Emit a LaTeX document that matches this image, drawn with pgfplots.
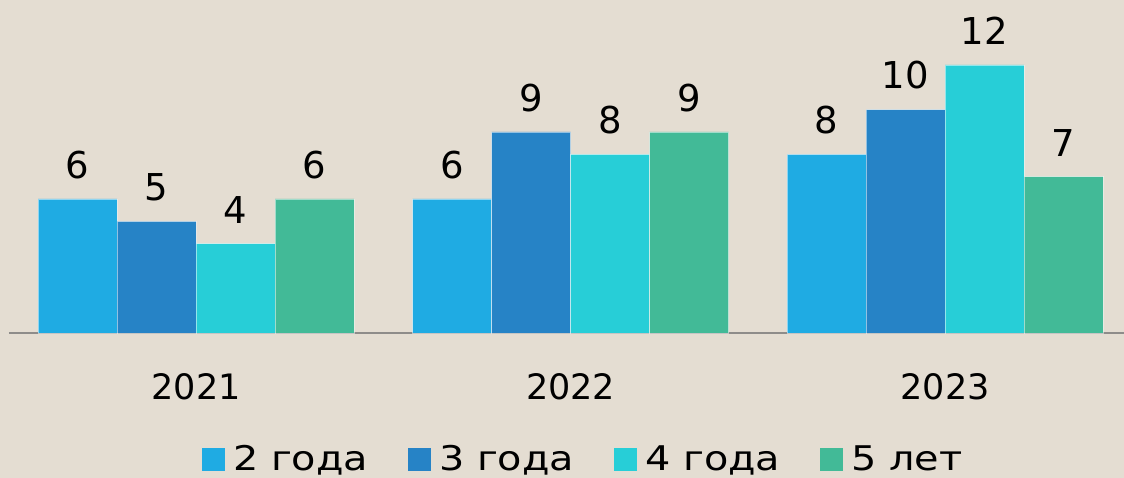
\documentclass[border=0pt]{standalone}
\usepackage{pgfplots}
\pgfplotsset{compat=1.18}
\usepackage{fontspec}
\setmainfont{DejaVu Sans}
\newfontfamily\legfont[FakeStretch=1.17]{DejaVu Sans}
\definecolor{bgc}{HTML}{E4DDD2}
\definecolor{cA}{HTML}{1FABE3}
\definecolor{cB}{HTML}{2683C6}
\definecolor{cC}{HTML}{27CED7}
\definecolor{cD}{HTML}{42BA97}
\definecolor{axc}{HTML}{8E8C8A}
\begin{document}
\begin{tikzpicture}
\fill[bgc] (0,0) rectangle (1124pt,478pt);
\begin{axis}[
  at={(9pt,145pt)}, anchor=south west,
  scale only axis, width=1115pt, height=312.7pt,
  xmin=-0.5, xmax=2.478, ymin=0, ymax=14,
  clip=false,
  /pgf/number format/assume math mode=true,
  ybar=0pt, bar width=0.211,
  axis x line*=bottom, axis y line=none,
  x axis line style={-, draw=axc, line width=2pt},
  xtick={0,1,2}, xticklabels={2021,2022,2023},
  major tick length=0pt,
  xticklabel style={font=\fontsize{35}{42}\selectfont, anchor=center, yshift=-54pt},
  nodes near coords,
  every node near coord/.append style={font=\fontsize{37}{44}\selectfont, inner sep=0pt, yshift=20pt, black},
  legend columns=4,
  legend style={at={(0.515,-0.403)}, anchor=center, draw=none, fill=none,
    font=\legfont\fontsize{34}{40}\selectfont,
    /tikz/every even column/.append style={column sep=38pt},
    /tikz/every odd column/.append style={column sep=6pt}},
  legend image code/.code={\fill[#1,draw=none] (0pt,-11.5pt) rectangle (23pt,11.5pt);},
]
\addplot[fill=cA, draw=white, draw opacity=0.5, line width=0.6pt] coordinates {(0,6) (1,6) (2,8)};
\addplot[fill=cB, draw=white, draw opacity=0.5, line width=0.6pt] coordinates {(0,5) (1,9) (2,10)};
\addplot[fill=cC, draw=white, draw opacity=0.5, line width=0.6pt] coordinates {(0,4) (1,8) (2,12)};
\addplot[fill=cD, draw=white, draw opacity=0.5, line width=0.6pt] coordinates {(0,6) (1,9) (2,7)};
\legend{2 года, 3 года, 4 года, 5 лет}
\end{axis}
\pgfresetboundingbox
\path[use as bounding box] (0,0) rectangle (1124pt,478pt);
\end{tikzpicture}
\end{document}
